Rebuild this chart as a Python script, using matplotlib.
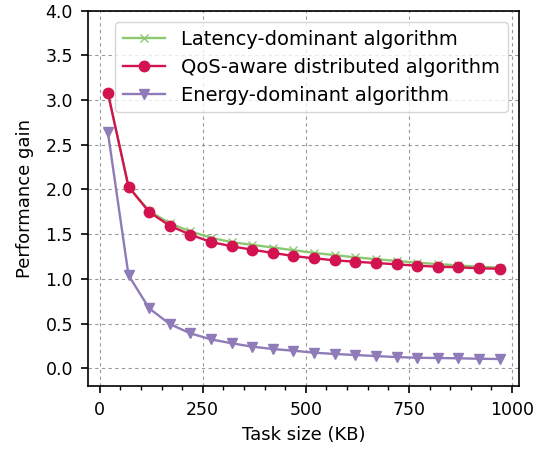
import matplotlib
matplotlib.use("Agg")
import matplotlib.pyplot as plt
from matplotlib.ticker import MultipleLocator

# Task sizes (KB)
task_size = [20, 70, 120, 170, 220, 270, 320, 370, 420, 470,
             520, 570, 620, 670, 720, 770, 820, 870, 920, 970]

# Performance gain of each algorithm
latency_gain = [3.08, 2.03, 1.76, 1.62, 1.53, 1.46, 1.41, 1.38, 1.35, 1.32,
                1.29, 1.265, 1.24, 1.22, 1.20, 1.18, 1.165, 1.15, 1.135, 1.125]
qos_gain = [3.08, 2.03, 1.747, 1.594, 1.493, 1.412, 1.364, 1.325, 1.29, 1.255,
            1.229, 1.207, 1.191, 1.177, 1.162, 1.147, 1.135, 1.129, 1.117, 1.113]
energy_gain = [2.64, 1.04, 0.67, 0.494, 0.39, 0.323, 0.279, 0.241, 0.215, 0.196,
               0.174, 0.159, 0.148, 0.136, 0.125, 0.117, 0.114, 0.111, 0.106, 0.103]

plt.rcParams['font.size'] = 12.5

fig = plt.figure(figsize=(5.47, 4.51), dpi=100)
ax = fig.add_axes([0.1614, 0.1439, 0.788, 0.8326])

ax.plot(task_size, latency_gain, color='#8cc870', marker='x', markersize=5.5,
        linewidth=1.7, label='Latency-dominant algorithm', zorder=3)
ax.plot(task_size, qos_gain, color='#d3134f', marker='o', markersize=7.5,
        linewidth=1.7, label='QoS-aware distributed algorithm', zorder=4)
ax.plot(task_size, energy_gain, color='#8e7bb8', marker='v', markersize=7.5,
        linewidth=1.7, label='Energy-dominant algorithm', zorder=3)

ax.set_ylim(-0.2, 4.0)
ax.set_xticks([0, 250, 500, 750, 1000])
ax.xaxis.set_minor_locator(MultipleLocator(50))
ax.set_yticks([0.0, 0.5, 1.0, 1.5, 2.0, 2.5, 3.0, 3.5, 4.0])
ax.tick_params(axis='both', which='major', labelsize=12.5, pad=6, width=1.2, length=5)
ax.tick_params(axis='x', which='minor', width=1.0, length=3)
for spine in ax.spines.values():
    spine.set_linewidth(1.2)
ax.grid(True, which='major', linestyle=(0, (3, 3)), color='gray', linewidth=0.8, alpha=0.8)

ax.set_xlabel('Task size (KB)', fontsize=13, labelpad=5)
ax.set_ylabel('Performance gain', fontsize=13, labelpad=8)
ax.legend(loc='upper right', fontsize=14, handlelength=2.2, borderaxespad=0.6,
          labelspacing=0.45)

fig.savefig('out.png', dpi=100)
